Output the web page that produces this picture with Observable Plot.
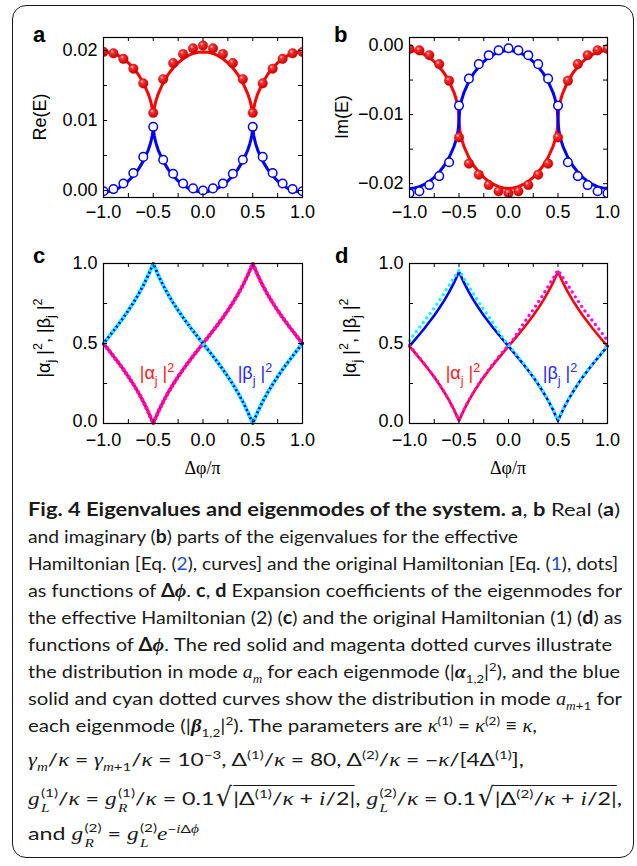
<!DOCTYPE html>
<html><head><meta charset="utf-8">
<script src="https://cdn.jsdelivr.net/npm/d3@7"></script>
<script src="https://cdn.jsdelivr.net/npm/@observablehq/plot@0.6"></script>
<style>
html,body{margin:0;padding:0;background:#fff;}
#fig{position:relative;width:637px;height:866px;background:#fff;overflow:hidden;}
#box{position:absolute;left:12px;top:5px;width:622px;height:853px;border:1.8px solid #1a1a1a;border-radius:14px;box-sizing:border-box;}
.panel{position:absolute;}
.cl{position:absolute;left:28px;white-space:nowrap;font-family:Lato,"Open Sans",sans-serif;font-size:18px;line-height:20px;color:#1a1a1a;transform-origin:0 0;}
.cl b{font-weight:700;}
.mi{font-family:"Liberation Serif",serif;font-style:italic;font-weight:normal;}
.mb{font-family:"Liberation Serif",serif;font-style:italic;font-weight:bold;}
.lk{color:#1f4fd1;}
.cl sub,.cl sup{font-size:0.66em;line-height:0;}
.st{display:inline-flex;flex-direction:column;font-size:0.66em;line-height:1.3;vertical-align:0.66em;margin-left:1px;}
.rad{display:inline-block;font-family:"DejaVu Sans",sans-serif;transform:scale(1.1,1.45);transform-origin:50% 70%;margin:0 1px 0 2px;}
.ov{border-top:1.2px solid #1a1a1a;padding-top:1px;}
</style></head><body>
<svg width="0" height="0" style="position:absolute"><defs>
<radialGradient id="ball" cx="0.4" cy="0.38" r="0.62" fx="0.36" fy="0.3">
<stop offset="0" stop-color="#ffe4e4"/><stop offset="0.28" stop-color="#ff3030"/><stop offset="1" stop-color="#c40000"/>
</radialGradient></defs></svg>
<div id="fig">
<div id="box"></div>
<div id="pa" class="panel" style="left:0;top:0"></div>
<div id="pb" class="panel" style="left:318px;top:0"></div>
<div id="pc" class="panel" style="left:0;top:230px"></div>
<div id="pd" class="panel" style="left:318px;top:230px"></div>

<div class="cl" data-b="516" data-w="592"><b>Fig. 4 Eigenvalues and eigenmodes of the system. a</b>, <b>b</b> Real (<b>a</b>)</div>
<div class="cl" data-b="543" data-w="490">and imaginary (<b>b</b>) parts of the eigenvalues for the effective</div>
<div class="cl" data-b="570" data-w="590">Hamiltonian [Eq. (<span class="lk">2</span>), curves] and the original Hamiltonian [Eq. (<span class="lk">1</span>), dots]</div>
<div class="cl" data-b="597" data-w="594">as functions of <b>Δ</b><span class="mb">ϕ</span>. <b>c</b>, <b>d</b> Expansion coefficients of the eigenmodes for</div>
<div class="cl" data-b="624" data-w="594">the effective Hamiltonian (2) (<b>c</b>) and the original Hamiltonian (1) (<b>d</b>) as</div>
<div class="cl" data-b="651" data-w="584">functions of <b>Δ</b><span class="mb">ϕ</span>. The red solid and magenta dotted curves illustrate</div>
<div class="cl" data-b="678" data-w="592">the distribution in mode <i class="mi">a</i><sub><i class="mi">m</i></sub> for each eigenmode (|<span class="mb">α</span><sub>1,2</sub>|<sup>2</sup>), and the blue</div>
<div class="cl" data-b="705" data-w="594">solid and cyan dotted curves show the distribution in mode <i class="mi">a</i><sub><i class="mi">m</i>+1</sub> for</div>
<div class="cl" data-b="732" data-w="509">each eigenmode (|<span class="mb">β</span><sub>1,2</sub>|<sup>2</sup>). The parameters are <i class="mi">κ</i><sup>(1)</sup> = <i class="mi">κ</i><sup>(2)</sup> ≡ <i class="mi">κ</i>,</div>
<div class="cl" data-b="766" data-w="496"><i class="mi">γ</i><sub><i class="mi">m</i></sub>/<i class="mi">κ</i> = <i class="mi">γ</i><sub><i class="mi">m</i>+1</sub>/<i class="mi">κ</i> = 10<sup>−3</sup>, Δ<sup>(1)</sup>/<i class="mi">κ</i> = 80, Δ<sup>(2)</sup>/<i class="mi">κ</i> = −<i class="mi">κ</i>/[4Δ<sup>(1)</sup>],</div>
<div class="cl" data-b="802" data-w="594"><i class="mi">g</i><span class="st"><span>(1)</span><span><i class="mi">L</i></span></span>/<i class="mi">κ</i> = <i class="mi">g</i><span class="st"><span>(1)</span><span><i class="mi">R</i></span></span>/<i class="mi">κ</i> = 0.1<span class="rad">√</span><span class="ov">|Δ<sup>(1)</sup>/<i class="mi">κ</i> + <i class="mi">i</i>/2|</span>, <i class="mi">g</i><span class="st"><span>(2)</span><span><i class="mi">L</i></span></span>/<i class="mi">κ</i> = 0.1<span class="rad">√</span><span class="ov">|Δ<sup>(2)</sup>/<i class="mi">κ</i> + <i class="mi">i</i>/2|</span>,</div>
<div class="cl" data-b="837" data-w="171">and <i class="mi">g</i><span class="st"><span>(2)</span><span><i class="mi">R</i></span></span> = <i class="mi">g</i><span class="st"><span>(2)</span><span><i class="mi">L</i></span></span><i class="mi">e</i><sup>−<i class="mi">i</i>Δ<i class="mi">ϕ</i></sup></div>
</div>

<script>
// ---------- data: panels a, b (curves = effective Hamiltonian, dots = original) ----------
const XC = [-1,-0.95,-0.9,-0.85,-0.8,-0.75,-0.7,-0.65,-0.6,-0.55,-0.53,-0.52,-0.51,-0.505,-0.5,-0.495,-0.49,-0.48,-0.47,-0.45,-0.4,-0.35,-0.3,-0.25,-0.2,-0.15,-0.1,-0.05,0,0.05,0.1,0.15,0.2,0.25,0.3,0.35,0.4,0.45,0.47,0.48,0.49,0.495,0.5,0.505,0.51,0.52,0.53,0.55,0.6,0.65,0.7,0.75,0.8,0.85,0.9,0.95,1];
const RE_RED = [0.0198,0.01976,0.01958,0.01927,0.01882,0.01824,0.0175,0.01658,0.0154,0.01382,0.01295,0.01241,0.01172,0.01127,0.0108,
0.01127,0.01172,0.01241,0.01295,0.01382,0.0154,0.01658,0.0175,0.01824,0.01882,0.01927,0.01958,0.01976,0.0198,
0.01976,0.01958,0.01927,0.01882,0.01824,0.0175,0.01658,0.0154,0.01382,0.01295,0.01241,0.01172,0.01127,0.0108,
0.01127,0.01172,0.01241,0.01295,0.01382,0.0154,0.01658,0.0175,0.01824,0.01882,0.01927,0.01958,0.01976,0.0198];
const RE_BLUE = [-0.00022,-0.00016,0.00002,0.00033,0.00078,0.00136,0.0021,0.00302,0.0042,0.00578,0.00665,0.00719,0.00788,0.00833,0.0088,
0.00833,0.00788,0.00719,0.00665,0.00578,0.0042,0.00302,0.0021,0.00136,0.00078,0.00033,0.00002,-0.00016,-0.00022,
-0.00016,0.00002,0.00033,0.00078,0.00136,0.0021,0.00302,0.0042,0.00578,0.00665,0.00719,0.00788,0.00833,0.0088,
0.00833,0.00788,0.00719,0.00665,0.00578,0.0042,0.00302,0.0021,0.00136,0.00078,0.00033,0.00002,-0.00016,-0.00022];
const IM_RED = [-0.00072,-0.00079,-0.00097,-0.00129,-0.00173,-0.00232,-0.00307,-0.004,-0.00519,-0.00681,-0.00771,-0.00829,-0.00906,-0.00963,-0.0107,
-0.01177,-0.01234,-0.01311,-0.01369,-0.01459,-0.01621,-0.0174,-0.01833,-0.01908,-0.01967,-0.02011,-0.02043,-0.02061,-0.02068,
-0.02061,-0.02043,-0.02011,-0.01967,-0.01908,-0.01833,-0.0174,-0.01621,-0.01459,-0.01369,-0.01311,-0.01234,-0.01177,-0.0107,
-0.00963,-0.00906,-0.00829,-0.00771,-0.00681,-0.00519,-0.004,-0.00307,-0.00232,-0.00173,-0.00129,-0.00097,-0.00079,-0.00072];
const IM_BLUE = [-0.02068,-0.02061,-0.02043,-0.02011,-0.01967,-0.01908,-0.01833,-0.0174,-0.01621,-0.01459,-0.01369,-0.01311,-0.01234,-0.01177,-0.0107,
-0.00963,-0.00906,-0.00829,-0.00771,-0.00681,-0.00519,-0.004,-0.00307,-0.00232,-0.00173,-0.00129,-0.00097,-0.00079,-0.00072,
-0.00079,-0.00097,-0.00129,-0.00173,-0.00232,-0.00307,-0.004,-0.00519,-0.00681,-0.00771,-0.00829,-0.00906,-0.00963,-0.0107,
-0.01177,-0.01234,-0.01311,-0.01369,-0.01459,-0.01621,-0.0174,-0.01833,-0.01908,-0.01967,-0.02011,-0.02043,-0.02061,-0.02068];

const XD = [-1,-0.9,-0.8,-0.7,-0.6,-0.5,-0.4,-0.3,-0.2,-0.1,0,0.1,0.2,0.3,0.4,0.5,0.6,0.7,0.8,0.9,1];
const RE_RED_DOT = [0.0198,0.0196,0.0188,0.0174,0.0153,0.0111,0.0159,0.0182,0.0195,0.0203,0.0207,0.0203,0.0195,0.0182,0.0159,0.0111,0.0153,0.0174,0.0188,0.0196,0.0198];
const RE_BLUE_DOT = [-0.0001,0.0002,0.001,0.0025,0.0048,0.0091,0.0044,0.0024,0.001,0.0003,0,0.0003,0.001,0.0024,0.0044,0.0091,0.0048,0.0025,0.001,0.0002,-0.0001];
const IM_RED_DOT = [-0.0005,-0.0007,-0.0014,-0.0027,-0.0051,-0.0133,-0.0171,-0.0187,-0.0202,-0.0211,-0.0214,-0.0211,-0.0202,-0.0187,-0.0171,-0.0133,-0.0051,-0.0027,-0.0014,-0.0007,-0.0005];
const IM_BLUE_DOT = [-0.0214,-0.0211,-0.0202,-0.0189,-0.0169,-0.0087,-0.0048,-0.0027,-0.0014,-0.0007,-0.0004,-0.0007,-0.0014,-0.0027,-0.0048,-0.0087,-0.0169,-0.0189,-0.0202,-0.0211,-0.0214];

// ---------- data: panels c, d ----------
const XE = [-1,-0.95,-0.9,-0.85,-0.8,-0.75,-0.7,-0.65,-0.6,-0.55,-0.5,-0.45,-0.4,-0.35,-0.3,-0.25,-0.2,-0.15,-0.1,-0.05,0,0.05,0.1,0.15,0.2,0.25,0.3,0.35,0.4,0.45,0.5,0.55,0.6,0.65,0.7,0.75,0.8,0.85,0.9,0.95,1];
const ALPHA_C = [0.5,0.4607,0.4208,0.38,0.3376,0.2929,0.2452,0.1936,0.1367,0.073,0,0.073,0.1367,0.1936,0.2452,0.2929,0.3376,0.38,0.4208,0.4607,0.5,0.5393,0.5792,0.62,0.6624,0.7071,0.7548,0.8064,0.8633,0.927,1,0.927,0.8633,0.8064,0.7548,0.7071,0.6624,0.62,0.5792,0.5393,0.5];
const BETA_C = [0.5,0.5393,0.5792,0.62,0.6624,0.7071,0.7548,0.8064,0.8633,0.927,1,0.927,0.8633,0.8064,0.7548,0.7071,0.6624,0.62,0.5792,0.5393,0.5,0.4607,0.4208,0.38,0.3376,0.2929,0.2452,0.1936,0.1367,0.073,0,0.073,0.1367,0.1936,0.2452,0.2929,0.3376,0.38,0.4208,0.4607,0.5];
const ALPHA_D = [0.483,0.446,0.409,0.371,0.331,0.29,0.245,0.197,0.144,0.085,0.017,0.085,0.144,0.197,0.245,0.29,0.331,0.371,0.409,0.446,0.483,0.519,0.556,0.594,0.634,0.675,0.72,0.768,0.821,0.88,0.948,0.88,0.821,0.768,0.72,0.675,0.634,0.594,0.556,0.519,0.483];
const BETA_D = [0.483,0.519,0.556,0.594,0.634,0.675,0.72,0.768,0.821,0.88,0.948,0.88,0.821,0.768,0.72,0.675,0.634,0.594,0.556,0.519,0.483,0.446,0.409,0.371,0.331,0.29,0.245,0.197,0.144,0.085,0.017,0.085,0.144,0.197,0.245,0.29,0.331,0.371,0.409,0.446,0.483];
const ALPHA_D_DOT = [0.488,0.45,0.412,0.373,0.333,0.291,0.246,0.198,0.145,0.086,0.02,0.088,0.148,0.2,0.249,0.294,0.336,0.377,0.416,0.454,0.49,0.529,0.574,0.624,0.668,0.712,0.758,0.806,0.857,0.907,0.958,0.912,0.865,0.815,0.768,0.722,0.68,0.64,0.6,0.56,0.518];
const BETA_D_DOT = [0.518,0.56,0.6,0.64,0.68,0.722,0.768,0.815,0.865,0.912,0.958,0.907,0.857,0.806,0.758,0.712,0.668,0.624,0.574,0.529,0.49,0.454,0.416,0.377,0.336,0.294,0.249,0.2,0.148,0.088,0.02,0.086,0.145,0.198,0.246,0.291,0.333,0.373,0.412,0.45,0.488];

// ---------- ticks ----------
const X_LABEL_TICKS = [-1,-0.5,0,0.5,1];
const X_FRAME_TICKS = [-0.75,-0.5,-0.25,0,0.25,0.5,0.75];
const RE_LABEL_TICKS = [0,0.01,0.02];
const RE_FRAME_TICKS = [0,0.005,0.01,0.015,0.02];
const IM_LABEL_TICKS = [-0.02,-0.01,0];
const IM_FRAME_TICKS = [-0.02,-0.015,-0.01,-0.005,0];
const C_LABEL_TICKS_UPPER = [0.5,1];
const C_LABEL_TICKS_BOTTOM = [0];
const C_FRAME_TICKS = [0.25,0.5,0.75];

const SANS = '"Liberation Sans", Arial, Helvetica, sans-serif';
const SERIF = '"Liberation Serif", "Times New Roman", serif';

function panel(cfg){
  const fw = cfg.w - cfg.ml - cfg.mr, fh = cfg.h - cfg.mt - cfg.mb, T = 4;
  const tk = {stroke:"#000", strokeWidth:1};
  const ax = {tickSize: 0, label: null};
  return Plot.plot({
    width: cfg.w, height: cfg.h,
    marginLeft: cfg.ml, marginRight: cfg.mr, marginTop: cfg.mt, marginBottom: cfg.mb,
    style: {fontFamily: SANS, fontSize: "18px", color: "#000", background: "transparent", overflow: "visible"},
    x: {domain: [-1, 1]},
    y: {domain: cfg.ydom},
    marks: [
      ...cfg.marks,
      Plot.tickX(X_FRAME_TICKS, {x: d => d, insetTop: fh - T, ...tk}),
      Plot.tickX(X_FRAME_TICKS, {x: d => d, insetBottom: fh - T, ...tk}),
      Plot.tickY(cfg.yframe, {y: d => d, insetRight: fw - T, ...tk}),
      Plot.tickY(cfg.yframe, {y: d => d, insetLeft: fw - T, ...tk}),
      Plot.frame({stroke: "#000", strokeWidth: 1.2}),
      Plot.axisX({...ax, ticks: X_LABEL_TICKS, tickPadding: cfg.xpad, tickFormat: d3.format(".1f")}),
      ...cfg.ygroups.map(([ticks, dy]) => Plot.axisY({...ax, ticks, tickPadding: 6, dy, tickFormat: d3.format(cfg.yfmt)}))
    ]
  });
}

function rich(svg, o){
  const size = o.size || 18;
  const t = d3.select(svg).append("text")
    .attr("transform", `translate(${o.x},${o.y})` + (o.rotate ? ` rotate(${o.rotate})` : ""))
    .attr("text-anchor", o.anchor || "middle")
    .attr("font-family", o.family || SANS)
    .attr("font-size", size)
    .attr("fill", o.fill || "#000");
  if (o.weight) t.attr("font-weight", o.weight);
  let shift = 0;
  for (const [s, k] of o.segs) {
    const target = k === "sub" ? size * 0.3 : k === "sup" ? -size * 0.42 : 0;
    const ts = t.append("tspan").text(s).attr("dy", target - shift);
    if (k === "sub" || k === "sup") ts.attr("font-size", size * 0.7);
    shift = target;
  }
}

const ballDots = (ys) => Plot.dot(XD, {x: XD, y: ys, r: 4.8, fill: "url(#ball)", stroke: "#d00000", strokeWidth: 0.4, clip: true});
const openDots = (ys) => Plot.dot(XD, {x: XD, y: ys, r: 4.3, fill: "#fff", stroke: "#0000ff", strokeWidth: 1.5, clip: true});

// Panel a
const A = panel({w: 318, h: 230, ml: 103, mr: 16, mt: 37, mb: 33, xpad: 8,
  ydom: [-0.001, 0.02186], ygroups: [[RE_LABEL_TICKS, 0]], yframe: RE_FRAME_TICKS, yfmt: ".2f",
  marks: [
    Plot.line(XC, {x: XC, y: RE_RED, stroke: "#ff0000", strokeWidth: 3, clip: true}),
    Plot.line(XC, {x: XC, y: RE_BLUE, stroke: "#0000ff", strokeWidth: 3, clip: true}),
    ballDots(RE_RED_DOT), openDots(RE_BLUE_DOT)
  ]});
document.getElementById("pa").append(A);
rich(A, {x: 33, y: 42, anchor: "start", size: 22, weight: "bold", segs: [["a"]]});
rich(A, {x: 46, y: 117, rotate: -90, segs: [["Re(E)"]]});

// Panel b
const B = panel({w: 319, h: 230, ml: 91, mr: 30, mt: 37, mb: 33, xpad: 8,
  ydom: [-0.0220, 0.00116], ygroups: [[IM_LABEL_TICKS, 0]], yframe: IM_FRAME_TICKS, yfmt: ".2f",
  marks: [
    Plot.line(XC, {x: XC, y: IM_RED, stroke: "#ff0000", strokeWidth: 3, clip: true}),
    Plot.line(XC, {x: XC, y: IM_BLUE, stroke: "#0000ff", strokeWidth: 3, clip: true}),
    ballDots(IM_RED_DOT), openDots(IM_BLUE_DOT)
  ]});
document.getElementById("pb").append(B);
rich(B, {x: 16, y: 42, anchor: "start", size: 22, weight: "bold", segs: [["b"]]});
rich(B, {x: 30, y: 117, rotate: -90, segs: [["Im(E)"]]});

// Panel c (solid = effective, dotted = original; they coincide)
const dotC = {strokeWidth: 4, strokeDasharray: "2.6 1.9", strokeLinecap: "butt", strokeLinejoin: "miter"};
const C = panel({w: 318, h: 250, ml: 103, mr: 16, mt: 33, mb: 57, xpad: 10,
  ydom: [0, 1], ygroups: [[C_LABEL_TICKS_UPPER, 0], [C_LABEL_TICKS_BOTTOM, -2.5]], yframe: C_FRAME_TICKS, yfmt: ".1f",
  marks: [
    Plot.line(XE, {x: XE, y: ALPHA_C, stroke: "#ff0000", strokeWidth: 3}),
    Plot.line(XE, {x: XE, y: ALPHA_C, stroke: "#ff00ff", ...dotC}),
    Plot.line(XE, {x: XE, y: BETA_C, stroke: "#0000ff", strokeWidth: 3}),
    Plot.line(XE, {x: XE, y: BETA_C, stroke: "#00ffff", ...dotC})
  ]});
document.getElementById("pc").append(C);

// Panel d
const D = panel({w: 319, h: 250, ml: 91, mr: 30, mt: 33, mb: 57, xpad: 10,
  ydom: [0, 1], ygroups: [[C_LABEL_TICKS_UPPER, 0], [C_LABEL_TICKS_BOTTOM, -2.5]], yframe: C_FRAME_TICKS, yfmt: ".1f",
  marks: [
    Plot.line(XE, {x: XE, y: ALPHA_D, stroke: "#ff0000", strokeWidth: 2.6}),
    Plot.line(XE, {x: XE, y: BETA_D, stroke: "#0000ff", strokeWidth: 2.6}),
    Plot.line(XE, {x: XE, y: ALPHA_D_DOT, stroke: "#ff00ff", strokeWidth: 3.4, strokeDasharray: "0 5.7", strokeLinecap: "round"}),
    Plot.line(XE, {x: XE, y: BETA_D_DOT, stroke: "#00ffff", strokeWidth: 3.4, strokeDasharray: "0 5.7", strokeLinecap: "round"})
  ]});
document.getElementById("pd").append(D);

const ylabC = [["|α"],["j","sub"],[" |"],["2","sup"],[", |β"],["j","sub"],[" |"],["2","sup"]];
for (const [svg, lx, letter, ax, bx, lx2] of [[C, 50, "c", -0.457, 0.527, 33], [D, 38, "d", -0.455, 0.525, 17]]) {
  const sx = svg.scale("x"), sy = svg.scale("y");
  rich(svg, {x: lx2, y: 33, anchor: "start", size: 22, weight: "bold", segs: [[letter]]});
  rich(svg, {x: lx, y: 108, rotate: -90, segs: ylabC});
  rich(svg, {x: sx.apply(ax), y: sy.apply(0.31) + 6, fill: "#ff1a1a", segs: [["|α"],["j","sub"],[" |"],["2","sup"]]});
  rich(svg, {x: sx.apply(bx), y: sy.apply(0.31) + 6, fill: "#2a2aff", segs: [["|β"],["j","sub"],[" |"],["2","sup"]]});
  rich(svg, {x: (sx.apply(-1) + sx.apply(1)) / 2, y: 244, family: SERIF, segs: [["Δφ/π"]]});
}

// caption layout: place lines by baseline; scale each line to its measured width
function fitCaption(){
  document.querySelectorAll(".cl").forEach(el => {
    el.style.top = (+el.dataset.b - 17) + "px";
    el.style.transform = "none";
    const w = el.getBoundingClientRect().width;
    el.style.transform = `scaleX(${(+el.dataset.w) / w})`;
  });
}
fitCaption();
if (document.fonts && document.fonts.ready) document.fonts.ready.then(fitCaption);
</script>
</body></html>
